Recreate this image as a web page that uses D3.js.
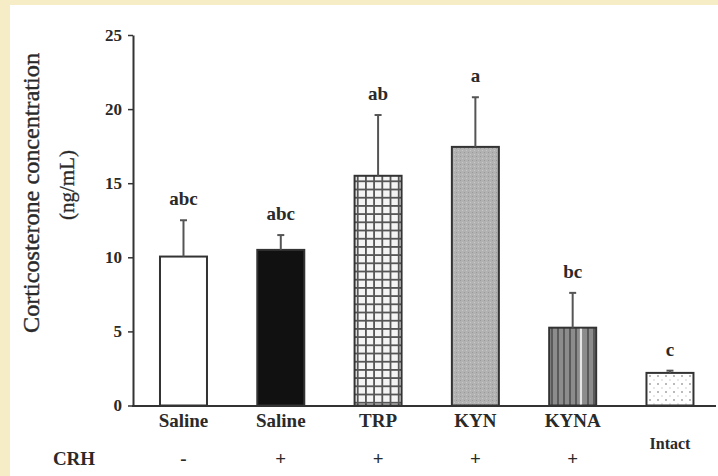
<!DOCTYPE html>
<html><head><meta charset="utf-8">
<script src="https://cdn.jsdelivr.net/npm/d3@7"></script>
<style>body{margin:0;background:#fff}svg{display:block}</style>
</head><body>
<svg id="c" width="718" height="476"></svg>
<script>
const categories = ["Saline","Saline","TRP","KYN","KYNA","Intact"];
const means = [10.05, 10.5, 15.5, 17.45, 5.25, 2.2];
const errors = [2.45, 1.0, 4.1, 3.35, 2.35, 0.15];
const letters = ["abc","abc","ab","a","bc","c"];
const crh = ["-","+","+","+","+",""];
const yTicks = [0,5,10,15,20,25];
const fills = ["#ffffff","#111111","url(#pGrid)","url(#pStip)","url(#pVert)","url(#pDots)"];

const svg = d3.select("#c");
const serif = "'Liberation Serif','DejaVu Serif',serif";
const ink = "#2a2a2a";

svg.append("rect").attr("width",718).attr("height",476).attr("fill","#f6ecc6");
svg.append("rect").attr("x",10).attr("y",5).attr("width",708).attr("height",471).attr("fill","#ffffff");

const defs = svg.append("defs");
const pg = defs.append("pattern").attr("id","pGrid").attr("patternUnits","userSpaceOnUse")
  .attr("width",8.2).attr("height",8.2).attr("x",160).attr("y",0);
pg.append("rect").attr("width",8.2).attr("height",8.2).attr("fill","#f4f4f4");
pg.append("rect").attr("x",0).attr("y",0).attr("width",1.8).attr("height",8.2).attr("fill","#555");
pg.append("rect").attr("x",0).attr("y",0).attr("width",8.2).attr("height",1.8).attr("fill","#555");
const ps = defs.append("pattern").attr("id","pStip").attr("patternUnits","userSpaceOnUse")
  .attr("width",4).attr("height",4);
ps.append("rect").attr("width",4).attr("height",4).attr("fill","#b2b2b2");
ps.append("rect").attr("x",0).attr("y",0).attr("width",1).attr("height",1).attr("fill","#999");
ps.append("rect").attr("x",2).attr("y",2).attr("width",1).attr("height",1).attr("fill","#c8c8c8");
const pv = defs.append("pattern").attr("id","pVert").attr("patternUnits","userSpaceOnUse")
  .attr("width",6).attr("height",10).attr("x",548);
pv.append("rect").attr("width",6).attr("height",10).attr("fill","#8c8c8c");
pv.append("rect").attr("x",3).attr("width",2).attr("height",10).attr("fill","#5a5a5a");
const pd = defs.append("pattern").attr("id","pDots").attr("patternUnits","userSpaceOnUse")
  .attr("width",8).attr("height",8).attr("x",647).attr("y",373);
pd.append("rect").attr("width",8).attr("height",8).attr("fill","#ffffff");
pd.append("circle").attr("cx",3).attr("cy",3).attr("r",0.9).attr("fill","#9a9a9a");
pd.append("circle").attr("cx",7).attr("cy",7).attr("r",0.7).attr("fill","#bdbdbd");

const y = d3.scaleLinear().domain([0,25]).range([405.5,35]);
const x = d3.scaleBand().domain(d3.range(categories.length)).range([133,716])
  .paddingInner(0.517).paddingOuter(0.2545).align(0.545);
const bw = x.bandwidth();

svg.append("g").selectAll("rect").data(means).join("rect")
  .attr("x",(d,i)=>x(i)).attr("y",d=>y(d))
  .attr("width",bw).attr("height",d=>y(0)-y(d))
  .attr("fill",(d,i)=>fills[i]).attr("stroke","#333").attr("stroke-width",2);

// white gap stripe seen in the KYNA bar
svg.append("line").attr("x1",x(4)+bw*0.68).attr("x2",x(4)+bw*0.68)
  .attr("y1",y(means[4])+1).attr("y2",y(0)-1).attr("stroke","#e6e6e6").attr("stroke-width",2.5);

const eg = svg.append("g").attr("stroke","#555").attr("stroke-width",2);
means.forEach((m,i)=>{
  const cx = x(i)+bw/2;
  eg.append("line").attr("x1",cx).attr("x2",cx).attr("y1",y(m)).attr("y2",y(m+errors[i]));
  eg.append("line").attr("x1",cx-3.5).attr("x2",cx+3.5).attr("y1",y(m+errors[i])).attr("y2",y(m+errors[i]));
});

svg.append("g").selectAll("text").data(letters).join("text")
  .attr("x",(d,i)=>x(i)+bw/2).attr("y",(d,i)=>y(means[i]+errors[i])-15)
  .attr("text-anchor","middle").attr("font-family",serif).attr("font-weight","bold")
  .attr("font-size",19).attr("fill",ink).text(d=>d);

const ya = svg.append("g").attr("transform","translate(133,0)")
  .call(d3.axisLeft(y).tickValues(yTicks).tickSize(5).tickSizeOuter(0).tickPadding(6));
ya.select(".domain").attr("stroke","#333").attr("stroke-width",2);
ya.selectAll(".tick line").attr("stroke","#333").attr("stroke-width",1.5);
ya.selectAll(".tick text").attr("font-family",serif).attr("font-weight","bold")
  .attr("font-size",17).attr("fill",ink);

svg.append("line").attr("x1",132).attr("x2",716).attr("y1",y(0)+0.5).attr("y2",y(0)+0.5)
  .attr("stroke","#333").attr("stroke-width",2);

svg.append("g").selectAll("text").data(categories).join("text")
  .attr("x",(d,i)=>x(i)+bw/2).attr("y",(d,i)=>i===5?449:427)
  .attr("text-anchor","middle").attr("font-family",serif).attr("font-weight","bold")
  .attr("font-size",(d,i)=>i===5?16:19).attr("fill",ink).text(d=>d);

svg.append("text").attr("x",74).attr("y",465).attr("text-anchor","middle")
  .attr("font-family",serif).attr("font-weight","bold").attr("font-size",19).attr("fill",ink).text("CRH");
svg.append("g").selectAll("text").data(crh).join("text")
  .attr("x",(d,i)=>x(i)+bw/2).attr("y",465).attr("text-anchor","middle")
  .attr("font-family",serif).attr("font-weight","bold").attr("font-size",19).attr("fill",ink).text(d=>d);

svg.append("text").attr("transform","translate(39,193) rotate(-90)").attr("text-anchor","middle")
  .attr("font-family",serif).attr("font-size",23).attr("fill",ink).attr("stroke",ink).attr("stroke-width",0.4)
  .attr("textLength",280).attr("lengthAdjust","spacingAndGlyphs").text("Corticosterone concentration");
svg.append("text").attr("transform","translate(74,185) rotate(-90)").attr("text-anchor","middle")
  .attr("font-family",serif).attr("font-size",21).attr("fill",ink).attr("stroke",ink).attr("stroke-width",0.3)
  .text("(ng/mL)");
</script>
</body></html>
